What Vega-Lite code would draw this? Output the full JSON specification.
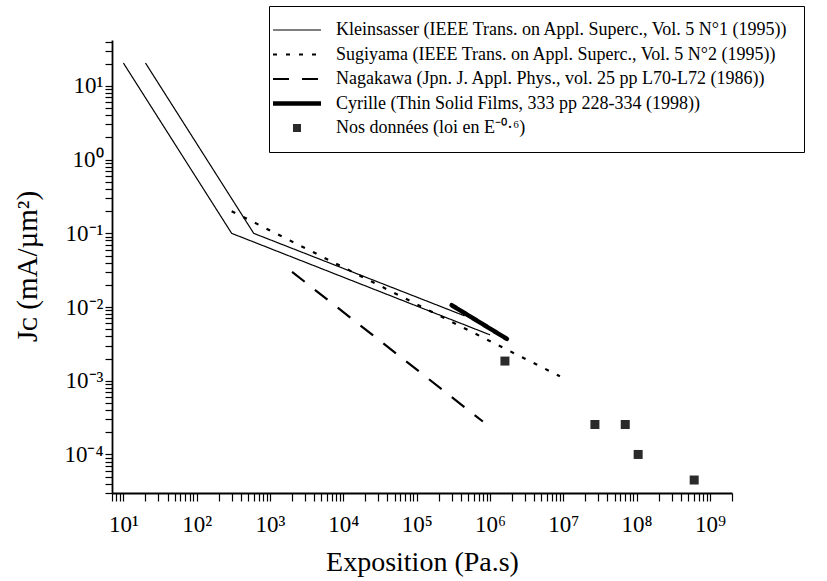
{
  "$schema": "https://vega.github.io/schema/vega-lite/v6.json",
  "width": 620,
  "height": 453,
  "autosize": {"type": "none"},
  "padding": {"left": 112, "top": 40, "right": 95, "bottom": 88},
  "background": "white",
  "config": {"view": {"stroke": null}, "font": "Liberation Serif"},
  "datasets": {
    "lines": [
      {"series": "Kleinsasser (IEEE Trans. on Appl. Superc., Vol. 5 N°1 (1995))", "line": "K1", "x": 10, "y": 20.5},
      {"series": "Kleinsasser (IEEE Trans. on Appl. Superc., Vol. 5 N°1 (1995))", "line": "K1", "x": 300, "y": 0.1},
      {"series": "Kleinsasser (IEEE Trans. on Appl. Superc., Vol. 5 N°1 (1995))", "line": "K1", "x": 1000000, "y": 0.0042},
      {"series": "Kleinsasser (IEEE Trans. on Appl. Superc., Vol. 5 N°1 (1995))", "line": "K2", "x": 20, "y": 20.5},
      {"series": "Kleinsasser (IEEE Trans. on Appl. Superc., Vol. 5 N°1 (1995))", "line": "K2", "x": 600, "y": 0.1},
      {"series": "Kleinsasser (IEEE Trans. on Appl. Superc., Vol. 5 N°1 (1995))", "line": "K2", "x": 450000, "y": 0.0076},
      {"series": "Sugiyama (IEEE Trans. on Appl. Superc., Vol. 5 N°2 (1995))", "line": "S", "x": 300, "y": 0.2},
      {"series": "Sugiyama (IEEE Trans. on Appl. Superc., Vol. 5 N°2 (1995))", "line": "S", "x": 9000000, "y": 0.00115},
      {"series": "Nagakawa (Jpn. J. Appl. Phys., vol. 25 pp L70-L72 (1986))", "line": "N", "x": 2000, "y": 0.03},
      {"series": "Nagakawa (Jpn. J. Appl. Phys., vol. 25 pp L70-L72 (1986))", "line": "N", "x": 800000, "y": 0.00028},
      {"series": "Cyrille (Thin Solid Films, 333 pp 228-334 (1998))", "line": "C", "x": 300000, "y": 0.0106},
      {"series": "Cyrille (Thin Solid Films, 333 pp 228-334 (1998))", "line": "C", "x": 1700000, "y": 0.0037}
    ],
    "points": [
      {"series": "Nos données (loi en E⁻⁰·⁶)", "x": 1600000, "y": 0.00185},
      {"series": "Nos données (loi en E⁻⁰·⁶)", "x": 27000000, "y": 0.000255},
      {"series": "Nos données (loi en E⁻⁰·⁶)", "x": 70000000, "y": 0.000255},
      {"series": "Nos données (loi en E⁻⁰·⁶)", "x": 105000000, "y": 0.0001},
      {"series": "Nos données (loi en E⁻⁰·⁶)", "x": 610000000, "y": 0.000045}
    ]
  },
  "encoding": {
    "x": {
      "field": "x", "type": "quantitative",
      "scale": {"type": "log", "domain": [7, 2000000000], "nice": false},
      "axis": {
        "values": [7,8,9,10,20,30,40,50,60,70,80,90,100,200,300,400,500,600,700,800,900,1000,2000,3000,4000,5000,6000,7000,8000,9000,10000,20000,30000,40000,50000,60000,70000,80000,90000,100000,200000,300000,400000,500000,600000,700000,800000,900000,1000000,2000000,3000000,4000000,5000000,6000000,7000000,8000000,9000000,10000000,20000000,30000000,40000000,50000000,60000000,70000000,80000000,90000000,100000000,200000000,300000000,400000000,500000000,600000000,700000000,800000000,900000000,1000000000,2000000000],
        "labelExpr": "(abs(log(datum.value)/LN10 - round(log(datum.value)/LN10)) < 0.001) ? '10' + (round(log(datum.value)/LN10) < 0 ? '⁻' : '') + substring('⁰¹²³⁴⁵⁶⁷⁸⁹', abs(round(log(datum.value)/LN10)), abs(round(log(datum.value)/LN10)) + 1) : ''",
        "tickSize": 8,
        "tickColor": "black", "tickWidth": 1.2,
        "domainColor": "black", "domainWidth": 1.8,
        "grid": false,
        "labelFont": "Liberation Serif", "labelFontSize": 23, "labelColor": "black",
        "labelPadding": 12, "labelOverlap": false, "labelFlush": false, "labelBound": false,
        "title": "Exposition (Pa.s)",
        "titleFont": "Liberation Serif", "titleFontSize": 28, "titleFontWeight": "normal", "titleColor": "black",
        "titleY": 77, "titleBaseline": "alphabetic",
        "encode": {"ticks": {"update": {"y2": {"signal": "(abs(log(datum.value)/LN10 - round(log(datum.value)/LN10)) < 0.001) ? 8 : 4"}}}}
      }
    },
    "y": {
      "field": "y", "type": "quantitative",
      "scale": {"type": "log", "domain": [0.00003, 42], "nice": false},
      "axis": {
        "values": [0.00003,0.00004,0.00005,0.00006,0.00007,0.00008,0.00009,0.0001,0.0002,0.0003,0.0004,0.0005,0.0006,0.0007,0.0008,0.0009,0.001,0.002,0.003,0.004,0.005,0.006,0.007,0.008,0.009,0.01,0.02,0.03,0.04,0.05,0.06,0.07,0.08,0.09,0.1,0.2,0.3,0.4,0.5,0.6,0.7,0.8,0.9,1,2,3,4,5,6,7,8,9,10,20,30,40],
        "labelExpr": "(abs(log(datum.value)/LN10 - round(log(datum.value)/LN10)) < 0.001) ? '10' + (round(log(datum.value)/LN10) < 0 ? '⁻' : '') + substring('⁰¹²³⁴⁵⁶⁷⁸⁹', abs(round(log(datum.value)/LN10)), abs(round(log(datum.value)/LN10)) + 1) : ''",
        "tickSize": 7,
        "tickColor": "black", "tickWidth": 1.2,
        "domainColor": "black", "domainWidth": 1.8,
        "grid": false,
        "labelFont": "Liberation Serif", "labelFontSize": 23, "labelColor": "black",
        "labelPadding": 2, "labelOverlap": false, "labelFlush": false, "labelBound": false,
        "title": "Jᴄ (mA/µm²)",
        "titleFont": "Liberation Serif", "titleFontSize": 29, "titleFontWeight": "normal", "titleColor": "black",
        "titleX": -76, "titleY": 226, "titleAlign": "center", "titleBaseline": "alphabetic", "titleAngle": -90,
        "encode": {"ticks": {"update": {"x2": {"signal": "(abs(log(datum.value)/LN10 - round(log(datum.value)/LN10)) < 0.001) ? -7 : -4"}}}}
      }
    }
  },
  "layer": [
    {
      "data": {"name": "lines"},
      "transform": [{"filter": "datum.line == 'K1' || datum.line == 'K2'"}],
      "mark": {"type": "line", "color": "black", "strokeWidth": 1.2},
      "encoding": {
        "detail": {"field": "line", "type": "nominal"},
        "strokeDash": {
          "field": "series", "type": "nominal",
          "scale": {
            "domain": [
              "Kleinsasser (IEEE Trans. on Appl. Superc., Vol. 5 N°1 (1995))",
              "Sugiyama (IEEE Trans. on Appl. Superc., Vol. 5 N°2 (1995))",
              "Nagakawa (Jpn. J. Appl. Phys., vol. 25 pp L70-L72 (1986))",
              "Cyrille (Thin Solid Films, 333 pp 228-334 (1998))",
              "Nos données (loi en E⁻⁰·⁶)"
            ],
            "range": [[1, 0], [4, 9], [16, 13], [1, 0], [1, 0]]
          },
          "legend": {
            "title": null,
            "orient": "none", "legendX": 157, "legendY": -34,
            "direction": "vertical",
            "padding": 15,
            "strokeColor": "black", "fillColor": "white",
            "labelFont": "Liberation Serif", "labelFontSize": 18, "labelColor": "black", "labelLimit": 900,
            "labelOffset": 30,
            "labelExpr": "datum.label + '\u00a0\u00a0\u00a0\u00a0\u00a0\u00a0'",
            "symbolSize": 100, "symbolOffset": 4, "symbolStrokeColor": "black",
            "rowPadding": 6.5,
            "encode": {
              "symbols": {"update": {
                "shape": {"signal": "datum.index == 4 ? 'M-0.8,-0.8H0.8V0.8H-0.8Z' : 'M-4.8,0H4.8'"},
                "fill": {"signal": "datum.index == 4 ? '#2b2b2b' : 'transparent'"},
                "stroke": {"signal": "datum.index == 4 ? 'transparent' : 'black'"},
                "strokeWidth": {"signal": "datum.index == 3 ? 4.5 : (datum.index == 0 ? 1.2 : 2.2)"}
              }}
            }
          }
        }
      }
    },
    {
      "data": {"name": "lines"},
      "transform": [{"filter": "datum.line == 'S'"}],
      "mark": {"type": "line", "color": "black", "strokeWidth": 2.2},
      "encoding": {"strokeDash": {"field": "series", "type": "nominal"}}
    },
    {
      "data": {"name": "lines"},
      "transform": [{"filter": "datum.line == 'N'"}],
      "mark": {"type": "line", "color": "black", "strokeWidth": 2.2},
      "encoding": {"strokeDash": {"field": "series", "type": "nominal"}}
    },
    {
      "data": {"name": "lines"},
      "transform": [{"filter": "datum.line == 'C'"}],
      "mark": {"type": "line", "color": "black", "strokeWidth": 4.5, "strokeCap": "round"},
      "encoding": {"strokeDash": {"field": "series", "type": "nominal"}}
    },
    {
      "data": {"name": "points"},
      "mark": {"type": "point", "shape": "square", "filled": true, "color": "#2b2b2b", "size": 81, "opacity": 1}
    }
  ]
}
